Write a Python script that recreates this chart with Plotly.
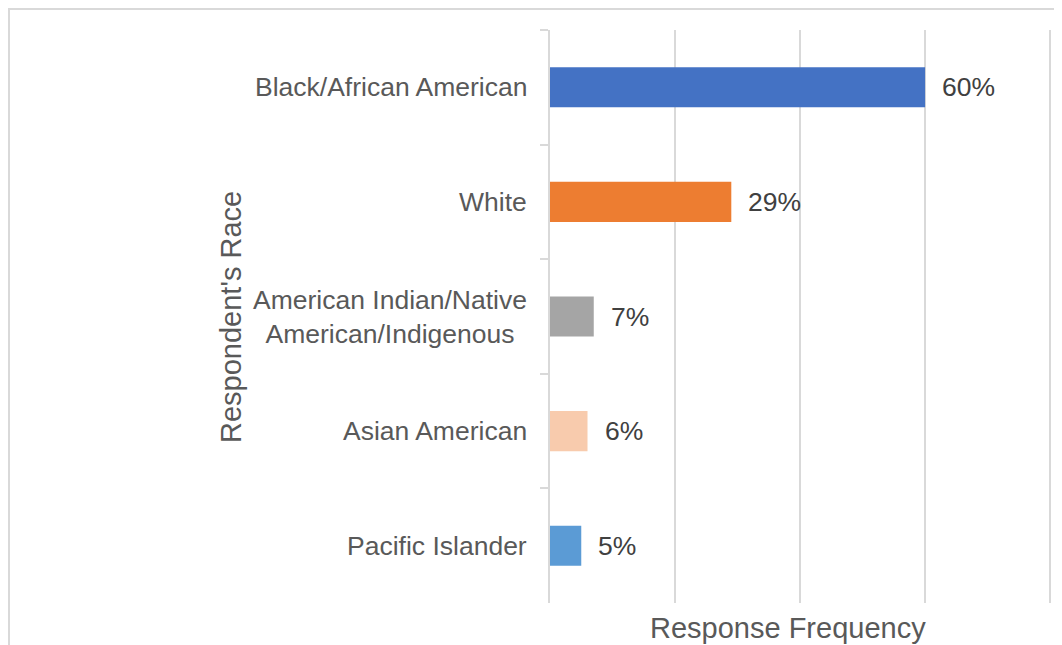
import plotly.graph_objects as go

categories = ["Black/African American", "White", "American Indian/Native<br>American/Indigenous",
              "Asian American", "Pacific Islander"]
values = [60, 29, 7, 6, 5]
value_labels = ["60%", "29%", "7%", "6%", "5%"]
colors = ["#4472C4", "#ED7D31", "#A5A5A5", "#F8CBAD", "#5B9BD5"]

x_title = "Response Frequency"
y_title = "Respondent's Race"

FONT = "Liberation Sans, Arial, sans-serif"
GRID = "#d9d9d9"

OFF = 8  # page body margin
X_MAX = 80.3
W, H = 1062 - OFF, 645 - OFF
L, T = 550 - OFF, 30 - OFF
R = W - (1050 + round((X_MAX - 80) * 6.25) - OFF)
B = H - (603 - OFF)
pw, ph = W - L - R, H - T - B


def px_x(px):
    return (px - OFF - L) / pw


def px_y(py):
    return 1 - (py - OFF - T) / ph


fig = go.Figure()
fig.add_trace(go.Bar(
    x=values, y=categories, orientation="h",
    marker=dict(color=colors, line=dict(width=0)),
    hoverinfo="skip",
))

annotations = []
for c, v, lab in zip(categories, values, value_labels):
    annotations.append(dict(x=v, y=c, xref="x", yref="y", text=lab, showarrow=False,
                            xanchor="left", yanchor="middle", xshift=15,
                            font=dict(family=FONT, size=26.5, color="#404040")))
    annotations.append(dict(x=0, y=c, xref="x", yref="y", text=c, showarrow=False,
                            xanchor="right", yanchor="middle", xshift=-21, align="center",
                            font=dict(family=FONT, size=26.5, color="#595959")))

annotations.append(dict(x=px_x(788), y=px_y(628), xref="paper", yref="paper",
                        text=x_title, showarrow=False, xanchor="center", yanchor="middle",
                        font=dict(family=FONT, size=29, color="#595959")))
annotations.append(dict(x=px_x(231), y=px_y(317), xref="paper", yref="paper",
                        text=y_title, showarrow=False, xanchor="center", yanchor="middle",
                        textangle=-90,
                        font=dict(family=FONT, size=29, color="#595959")))

fig.update_layout(
    width=W, height=H,
    margin=dict(l=L, r=R, t=T, b=B),
    paper_bgcolor="white", plot_bgcolor="white",
    showlegend=False,
    bargap=0.65,
    annotations=annotations,
    shapes=[dict(type="rect", xref="paper", yref="paper",
                 x0=px_x(OFF + 1), x1=px_x(1100),
                 y0=px_y(720), y1=px_y(OFF + 1),
                 line=dict(color=GRID, width=2), fillcolor="rgba(0,0,0,0)", layer="below")],
)
fig.update_xaxes(range=[0, X_MAX], tick0=0, dtick=20, showgrid=True, gridcolor=GRID, gridwidth=2,
                 showticklabels=False, zeroline=False, showline=False, ticks="")
fig.update_yaxes(autorange="reversed", showgrid=False, showline=True, linecolor=GRID, linewidth=2,
                 ticks="outside", tickson="boundaries", ticklen=8, tickcolor=GRID, tickwidth=2,
                 showticklabels=False, zeroline=False)

fig.write_html("out.html")
